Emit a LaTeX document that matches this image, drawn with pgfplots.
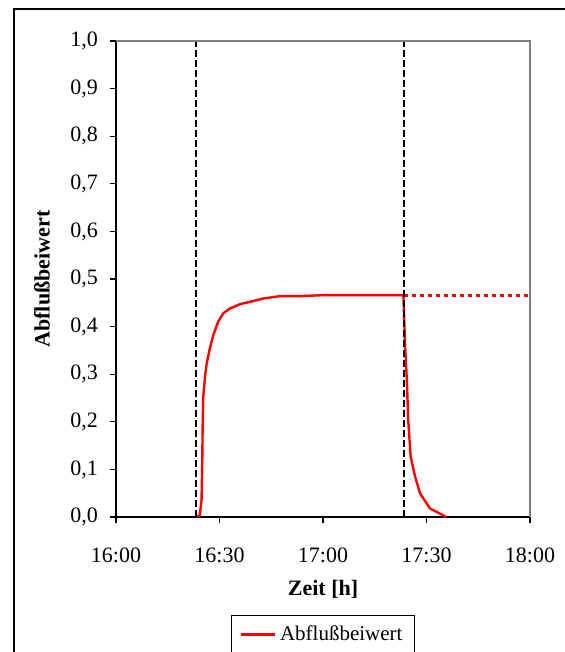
\documentclass[border=0pt]{standalone}
\usepackage{fontspec}
\setmainfont{Liberation Serif}
\usepackage{pgfplots}
\pgfplotsset{compat=1.18}
\begin{document}
\begin{tikzpicture}
\begin{axis}[
  at={(0,0)}, anchor=south west,
  scale only axis,
  width=207pt, height=238pt,
  xmin=0, xmax=120, ymin=0, ymax=1,
  axis x line*=bottom, axis y line*=left,
  axis line style={black, line width=0.8pt},
  xtick={0,30,60,90,120},
  xticklabels={16:00,16:30,17:00,17:30,18:00},
  ytick={0,0.1,...,1.0},
  tick align=outside,
  major tick length=3pt,
  tick style={black, line width=0.6pt},
  /pgf/number format/.cd, fixed, fixed zerofill, precision=1, use comma, assume math mode=true,
  /pgfplots/.cd,
  ticklabel style={font=\fontsize{11}{13}\selectfont},
  xticklabel style={yshift=-9pt},
  yticklabel style={xshift=-2.5pt},
  xlabel={\textbf{Zeit [h]}},
  ylabel={\textbf{Abflußbeiwert}},
  label style={font=\fontsize{11}{13}\selectfont},
  xlabel style={at={(axis description cs:0.5,-0.153)}, anchor=center},
  ylabel style={at={(axis description cs:-0.179,0.5)}, anchor=center},
  legend style={at={(0.5,-0.206)}, anchor=north, draw=black, line width=0.5pt,
    font=\fontsize{10.5}{12}\selectfont, inner xsep=4pt, inner ysep=3pt},
  legend cell align=left,
  clip=false,
]
% Abflussbeiwert (Zeit in min ab 16:00)
\addplot[red, line width=1.2pt, line join=round] coordinates {
  (23.4,0) (24.3,0.004) (24.8,0.036) (25.0,0.113) (25.1,0.183)
  (25.3,0.253) (25.8,0.295) (26.3,0.323) (27.2,0.354) (28.2,0.382)
  (29.6,0.410) (31.1,0.428) (33.0,0.438) (35.9,0.447) (38.8,0.452)
  (42.7,0.459) (47.5,0.464) (53.3,0.464) (60,0.466) (83.3,0.466)
  (83.8,0.358) (84.3,0.288) (84.7,0.204) (85.4,0.127) (86.7,0.085)
  (88.1,0.05) (91.0,0.018) (95.8,0)
};
\addlegendentry{Abflußbeiwert}
% Fortsetzung (gepunktet)
\addplot[red, line width=1.4pt, dash pattern=on 2pt off 2pt, forget plot] coordinates {
  (83.5,0.466) (120,0.466)
};
% Beginn / Ende Regen
\addplot[black, line width=1.2pt, dash pattern=on 3.5pt off 1.5pt, forget plot] coordinates {
  (23.2,0) (23.2,1)
};
\addplot[black, line width=1.2pt, dash pattern=on 3.5pt off 1.5pt, forget plot] coordinates {
  (83.5,0) (83.5,1)
};
\draw[gray, line width=0.8pt] (rel axis cs:0,1) -| (rel axis cs:1,0);
\end{axis}
\draw[line width=1pt] (-51pt,254pt) rectangle (230pt,-75pt);
\pgfresetboundingbox
\useasboundingbox (-58pt,-67.5pt) rectangle (224pt,258.5pt);
\end{tikzpicture}
\end{document}
